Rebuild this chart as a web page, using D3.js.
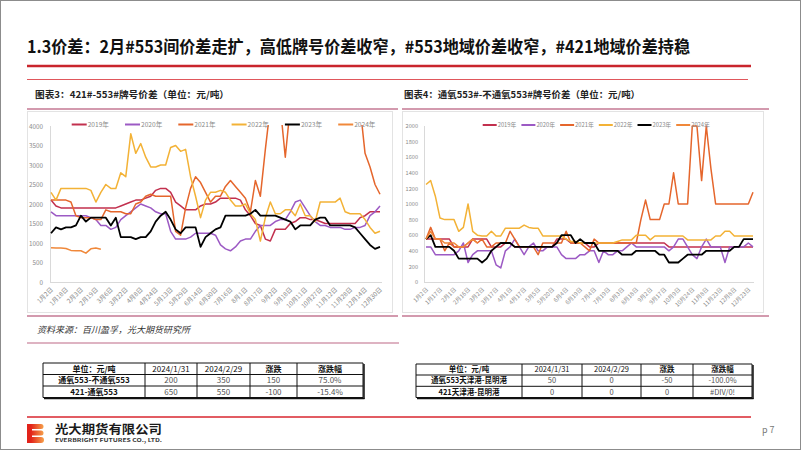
<!DOCTYPE html>
<html><head><meta charset="utf-8">
<script src="https://cdn.jsdelivr.net/npm/d3@7/dist/d3.min.js"></script>
<style>
html,body{margin:0;padding:0;background:#fff;}
svg{display:block;}
text{font-family:"Noto Sans CJK SC","Noto Sans",sans-serif;}
</style></head><body>
<svg id="c" width="802" height="451"></svg>
<script>
const years = ["2019年","2020年","2021年","2022年","2023年","2024年"];
const colors = ["#c2304e","#9c5ac4","#e5662c","#f3b236","#000000","#f0883a"];

const leftTicks = ["1月2日","1月18日","2月3日","2月19日","3月6日","3月22日","4月8日","4月24日","5月13日","5月29日","6月14日","6月30日","7月16日","8月1日","8月17日","9月2日","9月18日","10月11日","10月27日","11月12日","11月28日","12月14日","12月30日"];
const rightTicks = ["1月2日","1月17日","2月1日","2月16日","3月2日","3月17日","4月1日","4月17日","5月5日","5月20日","6月4日","6月19日","7月4日","7月19日","8月3日","8月18日","9月2日","9月17日","10月9日","10月24日","11月8日","11月23日","12月8日","12月23日"];
const leftYTicks = [0,500,1000,1500,2000,2500,3000,3500,4000];
const rightYTicks = [0,200,400,600,800,1000,1200,1400,1600,1800,2000];

// 图表3: 421#-553# 牌号价差
const left2019 = [2100,1950,1900,1900,1900,1900,1900,1900,1900,1900,1900,1900,1900,1900,1950,2000,2050,2100,2100,2150,2200,2350,2400,2400,2300,2050,1950,1850,1850,1850,1950,2000,2000,2050,2150,2150,2150,2150,2100,1850,1700,1500,1450,1100,1050,1350,1350,1350,1500,1550,1650,1650,1600,1600,1550,1500,1500,1500,1500,1500,1500,1500,1650,1700,1800,1800,1800];
const left2020 = [1800,1700,1700,1700,1700,1700,1700,1700,1650,1600,1450,1450,1350,1400,1600,1700,1800,1900,2000,1950,1900,1800,1750,1750,1300,1100,1100,1100,1150,1250,1250,1250,1250,1200,950,850,800,900,1050,1100,1100,1300,1450,1450,1450,1550,1600,1600,1800,2050,2100,1900,1700,1550,1450,1450,1400,1400,1400,1350,1350,1400,1400,1450,1700,1800,1950];
const left2021 = [2100,2100,2100,2100,2050,1700,1650,1650,1650,1600,1600,1850,1800,1800,1800,1750,1750,2000,2050,2200,2250,2200,2200,2200,2200,1300,1200,1900,2400,2700,2550,2300,2050,2200,2200,2450,2600,2450,2300,2150,1800,2600,2200,3400,4500,4500,4500,3200,4500,4500,4500,4500,4500,4500,4500,4500,4500,4500,4500,4500,4500,4500,4500,3300,2950,2500,2250];
const left2022 = [2300,2100,2400,2400,2400,2400,2400,2400,2350,2050,2300,2500,2400,2400,2800,2700,3800,3300,3550,3200,2950,2950,3000,3000,3450,3500,3350,3400,2700,2200,1650,2100,2300,2300,2350,2300,2100,1950,1950,2000,1750,1600,1050,1650,2050,1750,1750,1850,1850,1700,2000,1700,1700,1550,2050,2050,2050,2050,2150,1800,1750,1750,1750,1600,1400,1250,1300];
const left2023 = [1250,1400,1350,1400,1400,1450,1700,1550,1650,1650,1650,1650,1450,1650,1150,1150,1150,1100,1150,1150,1300,1550,1700,1800,1600,1350,1250,1400,1400,1400,900,1150,1250,1350,1400,1700,1700,1700,1700,1700,1750,1850,1700,1700,1700,1700,1650,1600,1550,1350,1450,1450,1450,1600,1650,1650,1450,1450,1450,1450,1450,1400,1250,1100,950,850,900];
const left2024 = [880,870,870,860,810,800,800,740,850,870,840];

// 图表4: 通氧553#-不通氧553# 牌号价差
const right2019 = [550,550,550,550,550,550,450,450,450,450,550,550,550,550,450,450,450,500,500,450,450,450,450,450,450,450,450,450,550,550,550,500,500,500,500,450,450,500,500,500,500,500,500,500,500,500,500,500,500,500,500,500,450,450,450,450,450,450,450,450,450,450,450,450,450,450,450,450,450,450,450];
const right2020 = [450,450,350,350,350,350,350,400,500,250,350,400,400,400,400,220,180,400,450,550,450,350,450,500,400,400,450,450,450,350,300,300,300,350,350,400,400,250,400,350,350,400,400,450,500,450,450,450,450,450,450,450,400,450,550,550,450,350,300,450,550,450,450,450,250,450,450,450,450,500,450];
const right2021 = [550,700,550,550,400,500,450,450,450,500,550,500,550,450,450,500,500,500,650,550,450,450,450,450,350,500,500,500,500,500,650,500,500,500,450,400,550,500,500,500,500,500,500,500,500,500,800,1050,800,800,800,1000,1000,1400,1000,1000,1000,2000,2000,1300,2000,1450,1000,1000,1000,1000,1000,1000,1000,1000,1150];
const right2022 = [1250,1300,1100,820,800,800,800,650,700,1000,650,600,590,590,650,590,590,690,690,690,690,730,700,690,690,590,590,590,590,590,550,520,520,500,500,500,500,500,500,500,500,520,540,540,540,600,600,600,540,590,590,590,590,590,590,590,540,540,540,540,540,540,590,590,650,650,590,590,590,590,590];
const right2023 = [550,600,450,450,450,450,400,300,300,300,300,300,250,300,400,450,500,500,500,450,450,450,450,450,450,450,450,450,500,600,600,600,500,550,500,500,500,400,400,400,400,400,350,350,350,400,400,400,400,400,350,350,250,250,250,300,350,350,350,350,400,400,400,400,400,400,450,450,550,550,550];
const right2024 = [550,650,550,550,500,500,500,450,450,500,550,500];

const tableHeader = ["单位：元/吨","2024/1/31","2024/2/29","涨跌","涨跌幅"];
const leftRows = [["通氧553-不通氧553","200","350","150","75.0%"],["421-通氧553","650","550","-100","-15.4%"]];
const rightRows = [["通氧553天津港-昆明港","50","0","-50","-100.0%"],["421天津港-昆明港","0","0","0","#DIV/0!"]];

const svg = d3.select("#c");
const defs = svg.append("defs");

// page frame
svg.append("rect").attr("x",0.5).attr("y",0.5).attr("width",800).attr("height",449)
  .attr("fill","#fff").attr("stroke","#8c8c8c").attr("stroke-width",1);

// title
svg.append("text").attr("x",27).attr("y",53)
  .attr("font-size",17).attr("font-weight",700).attr("fill","#111")
  .attr("textLength",663).attr("lengthAdjust","spacingAndGlyphs")
  .text("1.3价差：2月#553间价差走扩，高低牌号价差收窄，#553地域价差收窄，#421地域价差持稳");
svg.append("line").attr("x1",27).attr("x2",751).attr("y1",66).attr("y2",66)
  .attr("stroke","#c9252c").attr("stroke-width",2.5);
svg.append("line").attr("x1",27).attr("x2",748).attr("y1",79.5).attr("y2",79.5)
  .attr("stroke","#e0575c").attr("stroke-width",1);

function drawChart(cfg){
  const g = svg.append("g");
  g.append("rect").attr("x",cfg.frame[0]+0.5).attr("y",111.5)
    .attr("width",cfg.frame[1]-cfg.frame[0]).attr("height",201)
    .attr("fill","none").attr("stroke","#e3e3e3");
  g.append("text").attr("x",cfg.headX).attr("y",98).attr("font-size",9.5)
    .attr("font-weight",700).attr("fill","#222")
    .attr("textLength",cfg.headW).attr("lengthAdjust","spacingAndGlyphs").text(cfg.head);
  g.append("line").attr("x1",cfg.frame[0]).attr("x2",cfg.frame[1]+6).attr("y1",109).attr("y2",109)
    .attr("stroke","#d39aae").attr("stroke-width",2);
  g.append("line").attr("x1",cfg.frame[0]).attr("x2",cfg.frame[1]+6).attr("y1",316).attr("y2",316)
    .attr("stroke","#d39aae").attr("stroke-width",2);

  const x = d3.scaleLinear().domain([0,cfg.nTick]).range(cfg.xRange);
  const y = d3.scaleLinear().domain([0,cfg.yMax]).range([282,126]);

  g.append("line").attr("x1",cfg.axisX+0.5).attr("x2",cfg.axisX+0.5).attr("y1",126).attr("y2",282)
    .attr("stroke","#d9d9d9");
  g.append("line").attr("x1",cfg.axisX).attr("x2",cfg.axisEnd).attr("y1",282.5).attr("y2",282.5)
    .attr("stroke","#d9d9d9");

  const ya = g.append("g").attr("transform",`translate(${cfg.axisX},0)`)
    .call(d3.axisLeft(y).tickValues(cfg.yTicks).tickSize(0).tickPadding(cfg.yPad).tickFormat(d=>d));
  ya.select(".domain").remove();
  ya.selectAll("text").attr("font-size",cfg.yFont).attr("fill","#8a8a8a")
    .attr("font-family","Liberation Sans, Arial, sans-serif");

  const xa = g.append("g").attr("transform",`translate(0,282)`)
    .call(d3.axisBottom(x).tickValues(d3.range(0,cfg.labels.length*3,3)).tickSize(0)
      .tickFormat(d=>cfg.labels[d/3]));
  xa.select(".domain").remove();
  xa.selectAll("text").attr("x",0).attr("y",0).attr("dy",0)
    .attr("transform","translate(2,8) rotate(-45)").attr("text-anchor","end")
    .attr("font-size",cfg.xFont).attr("fill","#8a8a8a");

  const cid = cfg.id+"-clip";
  defs.append("clipPath").attr("id",cid).append("rect")
    .attr("x",cfg.axisX).attr("y",125).attr("width",cfg.axisEnd-cfg.axisX+2).attr("height",159);

  const line = d3.line().x((d,i)=>x(i)).y(d=>y(d));
  const lg = g.append("g").attr("clip-path",`url(#${cid})`);
  cfg.series.forEach((s,k)=>{
    lg.append("path").datum(s).attr("d",line).attr("fill","none")
      .attr("stroke",colors[k]).attr("stroke-width",k===4?1.8:1.5)
      .attr("stroke-linejoin","round");
  });

  years.forEach((yr,k)=>{
    const lx = cfg.legX + k*cfg.legSp;
    g.append("line").attr("x1",lx).attr("x2",lx+cfg.legLen).attr("y1",cfg.legY).attr("y2",cfg.legY)
      .attr("stroke",colors[k]).attr("stroke-width",2);
    g.append("text").attr("x",lx+cfg.legLen+1).attr("y",cfg.legY+2.3)
      .attr("font-size",cfg.legFont).attr("fill","#8a8a8a").text(yr);
  });
}

drawChart({
  id:"l", frame:[27,392], head:"图表3：421#-553#牌号价差（单位：元/吨）", headX:35, headW:194,
  labels:leftTicks, nTick:66, xRange:[51,380], axisX:50, axisEnd:382, yMax:4000, yTicks:leftYTicks,
  yPad:7, yFont:6.3, xFont:6.3,
  series:[left2019,left2020,left2021,left2022,left2023,left2024],
  legX:71.7, legSp:53.3, legLen:15, legY:124.5, legFont:6.6
});
drawChart({
  id:"r", frame:[402,763], head:"图表4：通氧553#-不通氧553#牌号价差（单位：元/吨）", headX:404, headW:236,
  labels:rightTicks, nTick:70, xRange:[426,753], axisX:424, axisEnd:754, yMax:2000, yTicks:rightYTicks,
  yPad:6, yFont:5.6, xFont:5.8,
  series:[right2019,right2020,right2021,right2022,right2023,right2024],
  legX:482.7, legSp:38.7, legLen:14, legY:125, legFont:5.8
});

svg.append("text").attr("x",37).attr("y",333).attr("font-size",9).attr("font-style","italic")
  .attr("fill","#333").text("资料来源：百川盈孚，光大期货研究所");
svg.append("line").attr("x1",27).attr("x2",399).attr("y1",343).attr("y2",343)
  .attr("stroke","#d39aae").attr("stroke-width",1.5);

function drawTable(cols, rowsY, rows, fs){
  const g = svg.append("g");
  const all = [tableHeader, ...rows];
  all.forEach((r,ri)=>r.forEach((t,ci)=>{
    const cx=(cols[ci]+cols[ci+1])/2, cy=(rowsY[ri]+rowsY[ri+1])/2;
    const cjk = /[\u4e00-\u9fff]/.test(t);
    const w = cjk ? 700 : 400;
    g.append("text").attr("x",cx).attr("y",cy+fs*0.36).attr("text-anchor","middle")
      .attr("font-size",fs).attr("font-weight",w)
      .attr("font-family", cjk ? null : "Liberation Sans, Arial, sans-serif")
      .attr("fill", ri===0 || ci===0 ? "#111" : "#555").text(t);
  }));
  const L=cols[0], R=cols[cols.length-1], T=rowsY[0], B=rowsY[rowsY.length-1];
  rowsY.forEach(v=>g.append("line").attr("x1",L).attr("x2",R).attr("y1",v).attr("y2",v).attr("stroke","#111").attr("stroke-width",1));
  cols.forEach(v=>g.append("line").attr("x1",v).attr("x2",v).attr("y1",T).attr("y2",B).attr("stroke","#111").attr("stroke-width",1));
  g.append("line").attr("x1",L+1).attr("x2",R+1.5).attr("y1",B+1).attr("y2",B+1).attr("stroke","#111").attr("stroke-width",1.5);
  g.append("line").attr("x1",R+1).attr("x2",R+1).attr("y1",T+1).attr("y2",B+1.5).attr("stroke","#111").attr("stroke-width",1.5);
}
drawTable([43,145,197,250,297,363],[363,374.5,386,397.5],leftRows,8);
drawTable([416,522,582,641,693,752],[364,375,386.3,397.5],rightRows,7.5);

// footer
svg.append("line").attr("x1",27).attr("x2",751).attr("y1",417).attr("y2",417)
  .attr("stroke","#d9262f").attr("stroke-width",1.5);
const grad = defs.append("linearGradient").attr("id","lg").attr("x1","0").attr("x2","1").attr("y1","0").attr("y2","0");
grad.append("stop").attr("offset","0").attr("stop-color","#e2231a");
grad.append("stop").attr("offset","1").attr("stop-color","#f6a04a");
const logo = svg.append("g");
logo.append("rect").attr("x",27).attr("y",424).attr("width",5).attr("height",19).attr("fill","#e2231a");
[[424,5],[430.5,5],[437,6]].forEach(([yy,h])=>{
  logo.append("path").attr("d",`M31,${yy} H41 A${h/2},${h/2} 0 0 1 41,${yy+h} H31 Z`).attr("fill","url(#lg)");
});
svg.append("text").attr("x",55).attr("y",434).attr("font-size",12).attr("font-weight",700)
  .attr("fill","#1a1a1a").attr("textLength",107).attr("lengthAdjust","spacingAndGlyphs").text("光大期货有限公司");
svg.append("text").attr("x",55).attr("y",441.5).attr("font-size",5).attr("font-weight",700)
  .attr("font-family","Liberation Sans, Arial, sans-serif")
  .attr("fill","#333").attr("textLength",107).attr("lengthAdjust","spacingAndGlyphs").text("EVERBRIGHT FUTURES CO., LTD.");
svg.append("text").attr("x",762).attr("y",433).attr("font-size",9)
  .attr("font-family","Liberation Sans, Arial, sans-serif").attr("fill","#777").text("p 7");
</script></body></html>
